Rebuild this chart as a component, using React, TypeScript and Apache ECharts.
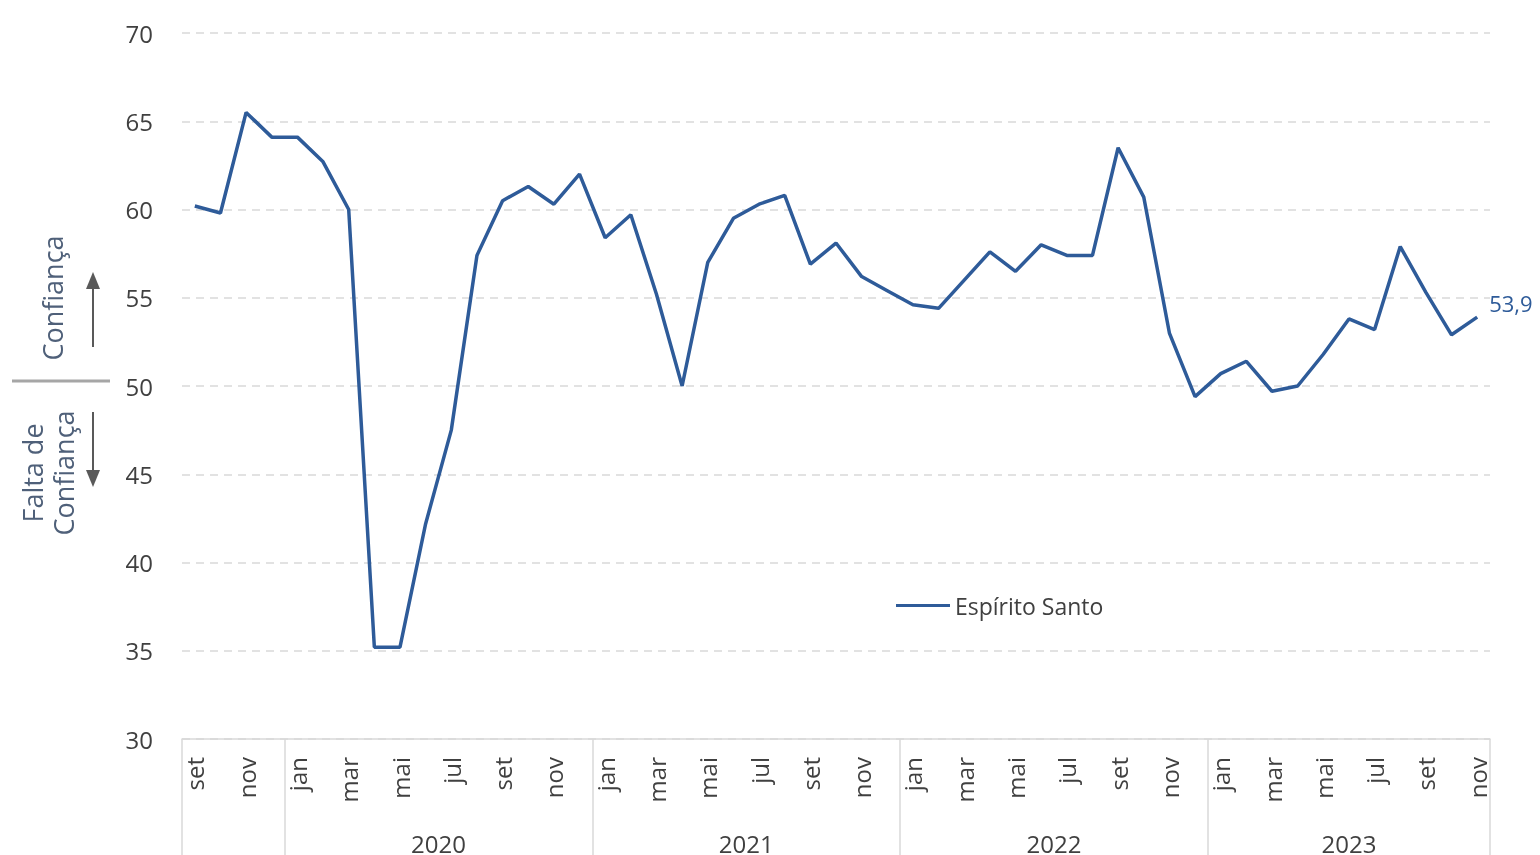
import React, { useEffect, useRef } from "react";
import * as echarts from "echarts";

const months = [
  "set", "out", "nov", "dez",
  "jan", "fev", "mar", "abr", "mai", "jun", "jul", "ago", "set", "out", "nov", "dez",
  "jan", "fev", "mar", "abr", "mai", "jun", "jul", "ago", "set", "out", "nov", "dez",
  "jan", "fev", "mar", "abr", "mai", "jun", "jul", "ago", "set", "out", "nov", "dez",
  "jan", "fev", "mar", "abr", "mai", "jun", "jul", "ago", "set", "out", "nov",
];

const espiritoSanto = [
  60.2, 59.8, 65.5, 64.1,
  64.1, 62.7, 60.0, 35.2, 35.2, 42.2, 47.5, 57.4, 60.5, 61.3, 60.3, 62.0,
  58.4, 59.7, 55.2, 50.0, 57.0, 59.5, 60.3, 60.8, 56.9, 58.1, 56.2, 55.4,
  54.6, 54.4, 56.0, 57.6, 56.5, 58.0, 57.4, 57.4, 63.5, 60.7, 53.0, 49.4,
  50.7, 51.4, 49.7, 50.0, 51.8, 53.8, 53.2, 57.9, 55.3, 52.9, 53.9,
];

const yearBoundaries = [0, 4, 16, 28, 40, 51];
const yearCenters = [10, 22, 34, 45.5];
const yearLabels = ["2020", "2021", "2022", "2023"];

const FONT = "'Open Sans', 'Noto Sans', sans-serif";
const LINE = "#2e5b99";
const TXT = "#404040";
const SIDE = "#4f6079";

export default function App() {
  const ref = useRef<HTMLDivElement>(null);
  useEffect(() => {
    if (!ref.current) return;
    const chart = echarts.init(ref.current, undefined, { renderer: "svg" });
    chart.setOption({
      animation: false,
      textStyle: { fontFamily: FONT },
      grid: { left: 182, right: 50, top: 33, bottom: 116, containLabel: false },
      legend: {
        data: ["Espírito Santo"],
        left: 891,
        top: 589,
        icon: "rect",
        itemWidth: 54,
        itemHeight: 3,
        itemGap: 6,
        textStyle: { fontFamily: FONT, fontSize: 23, color: TXT },
      },
      xAxis: [
        {
          type: "category",
          data: months,
          boundaryGap: true,
          axisLine: { show: true, lineStyle: { color: "#d9d9d9", width: 1.5 } },
          axisTick: { show: false },
          axisLabel: {
            interval: 1,
            rotate: 90,
            margin: 18,
            fontSize: 24,
            color: TXT,
            fontFamily: FONT,
          },
          splitLine: { show: false },
        },
        {
          type: "value",
          min: 0,
          max: 51,
          position: "bottom",
          axisLine: { show: false },
          splitLine: { show: false },
          axisTick: {
            show: true,
            inside: false,
            length: 116,
            customValues: yearBoundaries,
            lineStyle: { color: "#d9d9d9", width: 1.5 },
          },
          axisLabel: {
            show: true,
            customValues: yearCenters,
            margin: 92,
            fontSize: 24,
            color: TXT,
            fontFamily: FONT,
            formatter: (v: number) => {
              const i = yearCenters.indexOf(v);
              return i >= 0 ? yearLabels[i] : "";
            },
          },
        },
      ],
      yAxis: {
        type: "value",
        min: 30,
        max: 70,
        interval: 5,
        axisLine: { show: false },
        axisTick: { show: false },
        axisLabel: { margin: 29, fontSize: 24, color: TXT, fontFamily: FONT },
        splitLine: {
          show: true,
          lineStyle: { color: "#d9d9d9", type: [8, 6], width: 1.5 },
        },
      },
      series: [
        {
          name: "Espírito Santo",
          type: "line",
          data: espiritoSanto,
          symbol: "none",
          lineStyle: { color: LINE, width: 3.5 },
          itemStyle: { color: LINE },
          endLabel: {
            show: true,
            distance: 12,
            offset: [0, -14],
            fontSize: 22,
            color: LINE,
            fontFamily: FONT,
            formatter: (p: any) => String(p.value).replace(".", ","),
          },
        },
      ],
      graphic: [
        {
          type: "text",
          x: 52,
          y: 298,
          rotation: Math.PI / 2,
          style: {
            text: "Confiança",
            fill: SIDE,
            font: `27px ${FONT}`,
            align: "center",
            verticalAlign: "middle",
          },
        },
        {
          type: "text",
          x: 48,
          y: 473,
          rotation: Math.PI / 2,
          style: {
            text: "Falta de\nConfiança",
            fill: SIDE,
            font: `27px ${FONT}`,
            lineHeight: 31,
            align: "center",
            verticalAlign: "middle",
          },
        },
        {
          type: "line",
          shape: { x1: 12, y1: 381, x2: 110, y2: 381 },
          style: { stroke: "#a6a6a6", lineWidth: 3 },
        },
        {
          type: "line",
          shape: { x1: 93, y1: 347, x2: 93, y2: 285 },
          style: { stroke: "#595959", lineWidth: 2 },
        },
        {
          type: "polygon",
          shape: { points: [[93, 272], [86, 289], [100, 289]] },
          style: { fill: "#595959" },
        },
        {
          type: "line",
          shape: { x1: 93, y1: 412, x2: 93, y2: 474 },
          style: { stroke: "#595959", lineWidth: 2 },
        },
        {
          type: "polygon",
          shape: { points: [[93, 487], [86, 470], [100, 470]] },
          style: { fill: "#595959" },
        },
      ],
    });
    return () => chart.dispose();
  }, []);
  return (
    <div
      ref={ref}
      style={{ position: "fixed", left: 0, top: 0, width: 1540, height: 855 }}
    />
  );
}
